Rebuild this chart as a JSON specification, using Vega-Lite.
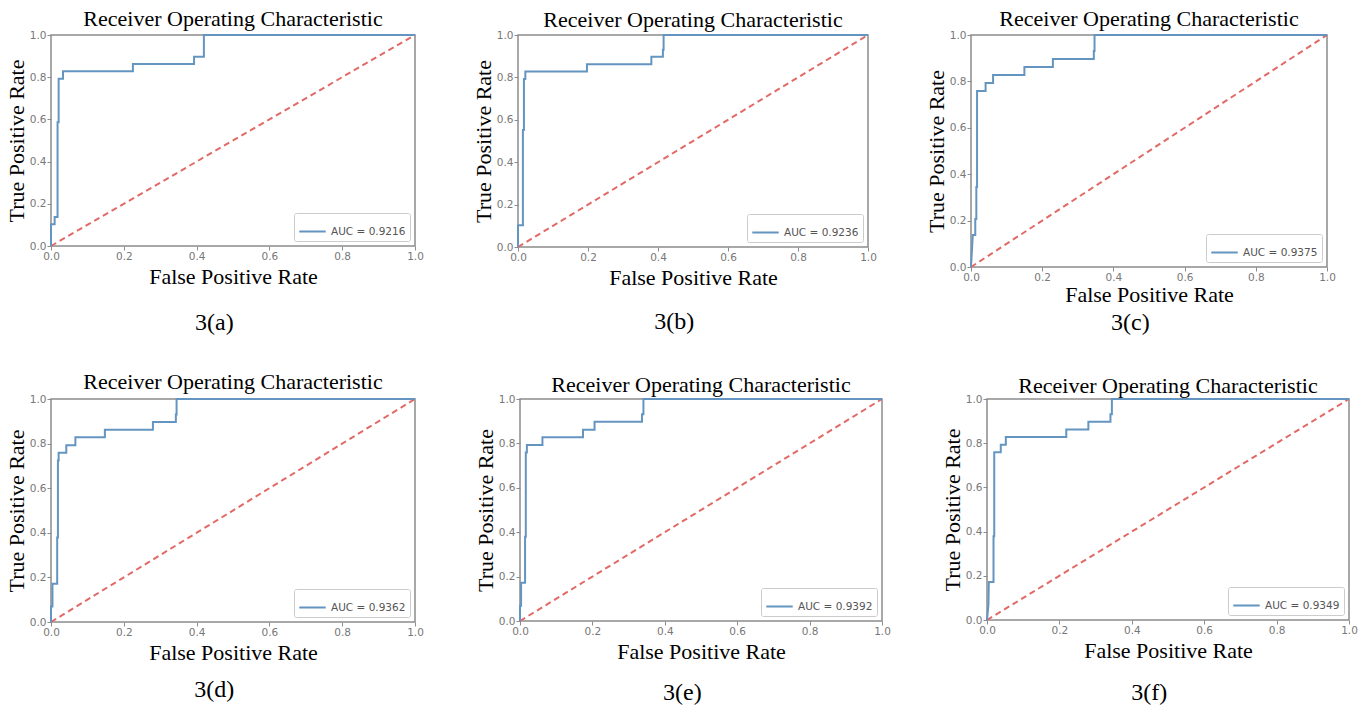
{
  "$schema": "https://vega.github.io/schema/vega-lite/v6.json",
  "padding": {"left": 4, "top": 7, "right": 5, "bottom": 0},
  "background": "white",
  "datasets": {
    "diag": [{"x": 0, "y": 0}, {"x": 1, "y": 1}],
    "roc": [
      {"p": "AUC = 0.9216", "i": 0, "x": 0, "y": 0},
      {"p": "AUC = 0.9216", "i": 1, "x": 0, "y": 0.103},
      {"p": "AUC = 0.9216", "i": 2, "x": 0.01, "y": 0.103},
      {"p": "AUC = 0.9216", "i": 3, "x": 0.01, "y": 0.138},
      {"p": "AUC = 0.9216", "i": 4, "x": 0.018, "y": 0.138},
      {"p": "AUC = 0.9216", "i": 5, "x": 0.018, "y": 0.586},
      {"p": "AUC = 0.9216", "i": 6, "x": 0.021, "y": 0.586},
      {"p": "AUC = 0.9216", "i": 7, "x": 0.021, "y": 0.793},
      {"p": "AUC = 0.9216", "i": 8, "x": 0.033, "y": 0.793},
      {"p": "AUC = 0.9216", "i": 9, "x": 0.033, "y": 0.828},
      {"p": "AUC = 0.9216", "i": 10, "x": 0.225, "y": 0.828},
      {"p": "AUC = 0.9216", "i": 11, "x": 0.225, "y": 0.862},
      {"p": "AUC = 0.9216", "i": 12, "x": 0.393, "y": 0.862},
      {"p": "AUC = 0.9216", "i": 13, "x": 0.393, "y": 0.897},
      {"p": "AUC = 0.9216", "i": 14, "x": 0.42, "y": 0.897},
      {"p": "AUC = 0.9216", "i": 15, "x": 0.42, "y": 1},
      {"p": "AUC = 0.9216", "i": 16, "x": 1, "y": 1},

      {"p": "AUC = 0.9236", "i": 0, "x": 0, "y": 0},
      {"p": "AUC = 0.9236", "i": 1, "x": 0, "y": 0.103},
      {"p": "AUC = 0.9236", "i": 2, "x": 0.014, "y": 0.103},
      {"p": "AUC = 0.9236", "i": 3, "x": 0.014, "y": 0.552},
      {"p": "AUC = 0.9236", "i": 4, "x": 0.017, "y": 0.552},
      {"p": "AUC = 0.9236", "i": 5, "x": 0.017, "y": 0.793},
      {"p": "AUC = 0.9236", "i": 6, "x": 0.021, "y": 0.793},
      {"p": "AUC = 0.9236", "i": 7, "x": 0.021, "y": 0.828},
      {"p": "AUC = 0.9236", "i": 8, "x": 0.197, "y": 0.828},
      {"p": "AUC = 0.9236", "i": 9, "x": 0.197, "y": 0.862},
      {"p": "AUC = 0.9236", "i": 10, "x": 0.381, "y": 0.862},
      {"p": "AUC = 0.9236", "i": 11, "x": 0.381, "y": 0.897},
      {"p": "AUC = 0.9236", "i": 12, "x": 0.414, "y": 0.897},
      {"p": "AUC = 0.9236", "i": 13, "x": 0.414, "y": 0.931},
      {"p": "AUC = 0.9236", "i": 14, "x": 0.416, "y": 0.931},
      {"p": "AUC = 0.9236", "i": 15, "x": 0.416, "y": 1},
      {"p": "AUC = 0.9236", "i": 16, "x": 1, "y": 1},

      {"p": "AUC = 0.9375", "i": 0, "x": 0, "y": 0},
      {"p": "AUC = 0.9375", "i": 1, "x": 0.005, "y": 0.138},
      {"p": "AUC = 0.9375", "i": 2, "x": 0.012, "y": 0.138},
      {"p": "AUC = 0.9375", "i": 3, "x": 0.012, "y": 0.207},
      {"p": "AUC = 0.9375", "i": 4, "x": 0.015, "y": 0.207},
      {"p": "AUC = 0.9375", "i": 5, "x": 0.015, "y": 0.345},
      {"p": "AUC = 0.9375", "i": 6, "x": 0.017, "y": 0.345},
      {"p": "AUC = 0.9375", "i": 7, "x": 0.017, "y": 0.759},
      {"p": "AUC = 0.9375", "i": 8, "x": 0.041, "y": 0.759},
      {"p": "AUC = 0.9375", "i": 9, "x": 0.041, "y": 0.793},
      {"p": "AUC = 0.9375", "i": 10, "x": 0.062, "y": 0.793},
      {"p": "AUC = 0.9375", "i": 11, "x": 0.062, "y": 0.828},
      {"p": "AUC = 0.9375", "i": 12, "x": 0.15, "y": 0.828},
      {"p": "AUC = 0.9375", "i": 13, "x": 0.15, "y": 0.862},
      {"p": "AUC = 0.9375", "i": 14, "x": 0.23, "y": 0.862},
      {"p": "AUC = 0.9375", "i": 15, "x": 0.23, "y": 0.897},
      {"p": "AUC = 0.9375", "i": 16, "x": 0.345, "y": 0.897},
      {"p": "AUC = 0.9375", "i": 17, "x": 0.345, "y": 0.931},
      {"p": "AUC = 0.9375", "i": 18, "x": 0.347, "y": 0.931},
      {"p": "AUC = 0.9375", "i": 19, "x": 0.347, "y": 1},
      {"p": "AUC = 0.9375", "i": 20, "x": 1, "y": 1},

      {"p": "AUC = 0.9362", "i": 0, "x": 0, "y": 0},
      {"p": "AUC = 0.9362", "i": 1, "x": 0, "y": 0.069},
      {"p": "AUC = 0.9362", "i": 2, "x": 0.004, "y": 0.069},
      {"p": "AUC = 0.9362", "i": 3, "x": 0.004, "y": 0.172},
      {"p": "AUC = 0.9362", "i": 4, "x": 0.017, "y": 0.172},
      {"p": "AUC = 0.9362", "i": 5, "x": 0.017, "y": 0.379},
      {"p": "AUC = 0.9362", "i": 6, "x": 0.019, "y": 0.379},
      {"p": "AUC = 0.9362", "i": 7, "x": 0.019, "y": 0.724},
      {"p": "AUC = 0.9362", "i": 8, "x": 0.021, "y": 0.724},
      {"p": "AUC = 0.9362", "i": 9, "x": 0.021, "y": 0.759},
      {"p": "AUC = 0.9362", "i": 10, "x": 0.042, "y": 0.759},
      {"p": "AUC = 0.9362", "i": 11, "x": 0.042, "y": 0.793},
      {"p": "AUC = 0.9362", "i": 12, "x": 0.067, "y": 0.793},
      {"p": "AUC = 0.9362", "i": 13, "x": 0.067, "y": 0.828},
      {"p": "AUC = 0.9362", "i": 14, "x": 0.148, "y": 0.828},
      {"p": "AUC = 0.9362", "i": 15, "x": 0.148, "y": 0.862},
      {"p": "AUC = 0.9362", "i": 16, "x": 0.28, "y": 0.862},
      {"p": "AUC = 0.9362", "i": 17, "x": 0.28, "y": 0.897},
      {"p": "AUC = 0.9362", "i": 18, "x": 0.343, "y": 0.897},
      {"p": "AUC = 0.9362", "i": 19, "x": 0.343, "y": 0.931},
      {"p": "AUC = 0.9362", "i": 20, "x": 0.345, "y": 0.931},
      {"p": "AUC = 0.9362", "i": 21, "x": 0.345, "y": 1},
      {"p": "AUC = 0.9362", "i": 22, "x": 1, "y": 1},

      {"p": "AUC = 0.9392", "i": 0, "x": 0, "y": 0},
      {"p": "AUC = 0.9392", "i": 1, "x": 0, "y": 0.069},
      {"p": "AUC = 0.9392", "i": 2, "x": 0.003, "y": 0.069},
      {"p": "AUC = 0.9392", "i": 3, "x": 0.003, "y": 0.172},
      {"p": "AUC = 0.9392", "i": 4, "x": 0.014, "y": 0.172},
      {"p": "AUC = 0.9392", "i": 5, "x": 0.014, "y": 0.379},
      {"p": "AUC = 0.9392", "i": 6, "x": 0.016, "y": 0.379},
      {"p": "AUC = 0.9392", "i": 7, "x": 0.016, "y": 0.759},
      {"p": "AUC = 0.9392", "i": 8, "x": 0.019, "y": 0.759},
      {"p": "AUC = 0.9392", "i": 9, "x": 0.019, "y": 0.793},
      {"p": "AUC = 0.9392", "i": 10, "x": 0.062, "y": 0.793},
      {"p": "AUC = 0.9392", "i": 11, "x": 0.062, "y": 0.828},
      {"p": "AUC = 0.9392", "i": 12, "x": 0.174, "y": 0.828},
      {"p": "AUC = 0.9392", "i": 13, "x": 0.174, "y": 0.862},
      {"p": "AUC = 0.9392", "i": 14, "x": 0.206, "y": 0.862},
      {"p": "AUC = 0.9392", "i": 15, "x": 0.206, "y": 0.897},
      {"p": "AUC = 0.9392", "i": 16, "x": 0.337, "y": 0.897},
      {"p": "AUC = 0.9392", "i": 17, "x": 0.337, "y": 0.931},
      {"p": "AUC = 0.9392", "i": 18, "x": 0.341, "y": 0.931},
      {"p": "AUC = 0.9392", "i": 19, "x": 0.341, "y": 1},
      {"p": "AUC = 0.9392", "i": 20, "x": 1, "y": 1},

      {"p": "AUC = 0.9349", "i": 0, "x": 0, "y": 0},
      {"p": "AUC = 0.9349", "i": 1, "x": 0.004, "y": 0.069},
      {"p": "AUC = 0.9349", "i": 2, "x": 0.005, "y": 0.172},
      {"p": "AUC = 0.9349", "i": 3, "x": 0.018, "y": 0.172},
      {"p": "AUC = 0.9349", "i": 4, "x": 0.018, "y": 0.379},
      {"p": "AUC = 0.9349", "i": 5, "x": 0.02, "y": 0.379},
      {"p": "AUC = 0.9349", "i": 6, "x": 0.02, "y": 0.759},
      {"p": "AUC = 0.9349", "i": 7, "x": 0.038, "y": 0.759},
      {"p": "AUC = 0.9349", "i": 8, "x": 0.038, "y": 0.793},
      {"p": "AUC = 0.9349", "i": 9, "x": 0.052, "y": 0.793},
      {"p": "AUC = 0.9349", "i": 10, "x": 0.052, "y": 0.828},
      {"p": "AUC = 0.9349", "i": 11, "x": 0.219, "y": 0.828},
      {"p": "AUC = 0.9349", "i": 12, "x": 0.219, "y": 0.862},
      {"p": "AUC = 0.9349", "i": 13, "x": 0.28, "y": 0.862},
      {"p": "AUC = 0.9349", "i": 14, "x": 0.28, "y": 0.897},
      {"p": "AUC = 0.9349", "i": 15, "x": 0.341, "y": 0.897},
      {"p": "AUC = 0.9349", "i": 16, "x": 0.341, "y": 0.931},
      {"p": "AUC = 0.9349", "i": 17, "x": 0.345, "y": 0.931},
      {"p": "AUC = 0.9349", "i": 18, "x": 0.345, "y": 1},
      {"p": "AUC = 0.9349", "i": 19, "x": 1, "y": 1}
    ]
  },
  "spacing": 34,
  "resolve": {"scale": {"color": "independent"}},
  "vconcat": [
    {
      "spacing": 46,
      "resolve": {"scale": {"color": "independent"}},
      "hconcat": [
        {
          "title": {"text": "3(a)", "orient": "bottom", "anchor": "middle", "offset": 23, "fontSize": 24},
          "resolve": {"scale": {"color": "independent"}},
          "vconcat": [{
            "title": {"text": "Receiver Operating Characteristic", "offset": -1},
            "width": 364, "height": 211,
            "layer": [
              {"data": {"name": "diag"}, "mark": {"type": "line", "color": "#e26a66", "strokeDash": [6, 4], "strokeWidth": 2},
               "encoding": {"x": {"field": "x", "type": "quantitative", "scale": {"domain": [0, 1], "nice": false}, "axis": {"title": "False Positive Rate", "values": [0, 0.2, 0.4, 0.6, 0.8, 1], "format": ".1f"}},
                            "y": {"field": "y", "type": "quantitative", "scale": {"domain": [0, 1], "nice": false}, "axis": {"title": "True Positive Rate", "values": [0, 0.2, 0.4, 0.6, 0.8, 1], "format": ".1f"}}}},
              {"data": {"name": "roc"}, "transform": [{"filter": "datum.p === 'AUC = 0.9216'"}], "mark": {"type": "line", "strokeWidth": 2},
               "encoding": {"x": {"field": "x", "type": "quantitative"}, "y": {"field": "y", "type": "quantitative"}, "order": {"field": "i"},
                            "color": {"field": "p", "type": "nominal", "scale": {"range": ["#6495c0"]}, "legend": {"title": null}}}}
            ]
          }]
        },
        {
          "title": {"text": "3(b)", "orient": "bottom", "anchor": "middle", "offset": 21, "fontSize": 24},
          "resolve": {"scale": {"color": "independent"}},
          "vconcat": [{
            "title": {"text": "Receiver Operating Characteristic", "offset": -2},
            "width": 350, "height": 212,
            "layer": [
              {"data": {"name": "diag"}, "mark": {"type": "line", "color": "#e26a66", "strokeDash": [6, 4], "strokeWidth": 2},
               "encoding": {"x": {"field": "x", "type": "quantitative", "scale": {"domain": [0, 1], "nice": false}, "axis": {"title": "False Positive Rate", "values": [0, 0.2, 0.4, 0.6, 0.8, 1], "format": ".1f"}},
                            "y": {"field": "y", "type": "quantitative", "scale": {"domain": [0, 1], "nice": false}, "axis": {"title": "True Positive Rate", "values": [0, 0.2, 0.4, 0.6, 0.8, 1], "format": ".1f"}}}},
              {"data": {"name": "roc"}, "transform": [{"filter": "datum.p === 'AUC = 0.9236'"}], "mark": {"type": "line", "strokeWidth": 2},
               "encoding": {"x": {"field": "x", "type": "quantitative"}, "y": {"field": "y", "type": "quantitative"}, "order": {"field": "i"},
                            "color": {"field": "p", "type": "nominal", "scale": {"range": ["#6495c0"]}, "legend": {"title": null}}}}
            ]
          }]
        },
        {
          "title": {"text": "3(c)", "orient": "bottom", "anchor": "middle", "offset": 5, "fontSize": 24},
          "resolve": {"scale": {"color": "independent"}},
          "vconcat": [{
            "title": {"text": "Receiver Operating Characteristic", "offset": -1},
            "width": 356, "height": 232,
            "layer": [
              {"data": {"name": "diag"}, "mark": {"type": "line", "color": "#e26a66", "strokeDash": [6, 4], "strokeWidth": 2},
               "encoding": {"x": {"field": "x", "type": "quantitative", "scale": {"domain": [0, 1], "nice": false}, "axis": {"title": "False Positive Rate", "values": [0, 0.2, 0.4, 0.6, 0.8, 1], "format": ".1f", "titlePadding": 2}},
                            "y": {"field": "y", "type": "quantitative", "scale": {"domain": [0, 1], "nice": false}, "axis": {"title": "True Positive Rate", "values": [0, 0.2, 0.4, 0.6, 0.8, 1], "format": ".1f"}}}},
              {"data": {"name": "roc"}, "transform": [{"filter": "datum.p === 'AUC = 0.9375'"}], "mark": {"type": "line", "strokeWidth": 2},
               "encoding": {"x": {"field": "x", "type": "quantitative"}, "y": {"field": "y", "type": "quantitative"}, "order": {"field": "i"},
                            "color": {"field": "p", "type": "nominal", "scale": {"range": ["#6495c0"]}, "legend": {"title": null}}}}
            ]
          }]
        }
      ]
    },
    {
      "spacing": 48,
      "resolve": {"scale": {"color": "independent"}},
      "hconcat": [
        {
          "title": {"text": "3(d)", "orient": "bottom", "anchor": "middle", "offset": 14, "fontSize": 24},
          "resolve": {"scale": {"color": "independent"}},
          "vconcat": [{
            "title": {"text": "Receiver Operating Characteristic", "offset": 0},
            "width": 364, "height": 223,
            "layer": [
              {"data": {"name": "diag"}, "mark": {"type": "line", "color": "#e26a66", "strokeDash": [6, 4], "strokeWidth": 2},
               "encoding": {"x": {"field": "x", "type": "quantitative", "scale": {"domain": [0, 1], "nice": false}, "axis": {"title": "False Positive Rate", "values": [0, 0.2, 0.4, 0.6, 0.8, 1], "format": ".1f"}},
                            "y": {"field": "y", "type": "quantitative", "scale": {"domain": [0, 1], "nice": false}, "axis": {"title": "True Positive Rate", "values": [0, 0.2, 0.4, 0.6, 0.8, 1], "format": ".1f"}}}},
              {"data": {"name": "roc"}, "transform": [{"filter": "datum.p === 'AUC = 0.9362'"}], "mark": {"type": "line", "strokeWidth": 2},
               "encoding": {"x": {"field": "x", "type": "quantitative"}, "y": {"field": "y", "type": "quantitative"}, "order": {"field": "i"},
                            "color": {"field": "p", "type": "nominal", "scale": {"range": ["#6495c0"]}, "legend": {"title": null}}}}
            ]
          }]
        },
        {
          "title": {"text": "3(e)", "orient": "bottom", "anchor": "middle", "offset": 18, "fontSize": 24},
          "resolve": {"scale": {"color": "independent"}},
          "vconcat": [{
            "title": {"text": "Receiver Operating Characteristic", "offset": -3},
            "width": 362, "height": 222,
            "layer": [
              {"data": {"name": "diag"}, "mark": {"type": "line", "color": "#e26a66", "strokeDash": [6, 4], "strokeWidth": 2},
               "encoding": {"x": {"field": "x", "type": "quantitative", "scale": {"domain": [0, 1], "nice": false}, "axis": {"title": "False Positive Rate", "values": [0, 0.2, 0.4, 0.6, 0.8, 1], "format": ".1f"}},
                            "y": {"field": "y", "type": "quantitative", "scale": {"domain": [0, 1], "nice": false}, "axis": {"title": "True Positive Rate", "values": [0, 0.2, 0.4, 0.6, 0.8, 1], "format": ".1f"}}}},
              {"data": {"name": "roc"}, "transform": [{"filter": "datum.p === 'AUC = 0.9392'"}], "mark": {"type": "line", "strokeWidth": 2},
               "encoding": {"x": {"field": "x", "type": "quantitative"}, "y": {"field": "y", "type": "quantitative"}, "order": {"field": "i"},
                            "color": {"field": "p", "type": "nominal", "scale": {"range": ["#6495c0"]}, "legend": {"title": null}}}}
            ]
          }]
        },
        {
          "title": {"text": "3(f)", "orient": "bottom", "anchor": "middle", "offset": 19, "fontSize": 24},
          "resolve": {"scale": {"color": "independent"}},
          "vconcat": [{
            "title": {"text": "Receiver Operating Characteristic", "offset": -4},
            "width": 362, "height": 221,
            "layer": [
              {"data": {"name": "diag"}, "mark": {"type": "line", "color": "#e26a66", "strokeDash": [6, 4], "strokeWidth": 2},
               "encoding": {"x": {"field": "x", "type": "quantitative", "scale": {"domain": [0, 1], "nice": false}, "axis": {"title": "False Positive Rate", "values": [0, 0.2, 0.4, 0.6, 0.8, 1], "format": ".1f"}},
                            "y": {"field": "y", "type": "quantitative", "scale": {"domain": [0, 1], "nice": false}, "axis": {"title": "True Positive Rate", "values": [0, 0.2, 0.4, 0.6, 0.8, 1], "format": ".1f"}}}},
              {"data": {"name": "roc"}, "transform": [{"filter": "datum.p === 'AUC = 0.9349'"}], "mark": {"type": "line", "strokeWidth": 2},
               "encoding": {"x": {"field": "x", "type": "quantitative"}, "y": {"field": "y", "type": "quantitative"}, "order": {"field": "i"},
                            "color": {"field": "p", "type": "nominal", "scale": {"range": ["#6495c0"]}, "legend": {"title": null}}}}
            ]
          }]
        }
      ]
    }
  ],
  "config": {
    "font": "Liberation Serif",
    "view": {"stroke": "#8c8c8c", "strokeWidth": 1.5},
    "axis": {"domain": false, "grid": false, "ticks": true, "tickColor": "#8c8c8c", "tickSize": 4, "labelFont": "DejaVu Sans", "labelFontSize": 10.5, "labelColor": "#777777", "labelPadding": 1, "labelFlush": false, "labelOverlap": false, "titleFont": "Liberation Serif", "titleFontSize": 22, "titleFontWeight": "normal", "titleColor": "#000000", "titlePadding": 5},
    "axisY": {"titlePadding": 1},
    "title": {"font": "Liberation Serif", "fontSize": 22, "fontWeight": "normal", "color": "#000000"},
    "legend": {"orient": "bottom-right", "offset": 5, "padding": 4, "strokeColor": "#cccccc", "fillColor": "white", "cornerRadius": 2, "symbolType": "stroke", "symbolStrokeWidth": 2, "symbolSize": 700, "labelFont": "DejaVu Sans", "labelFontSize": 10.5, "labelColor": "#555555"}
  }
}
